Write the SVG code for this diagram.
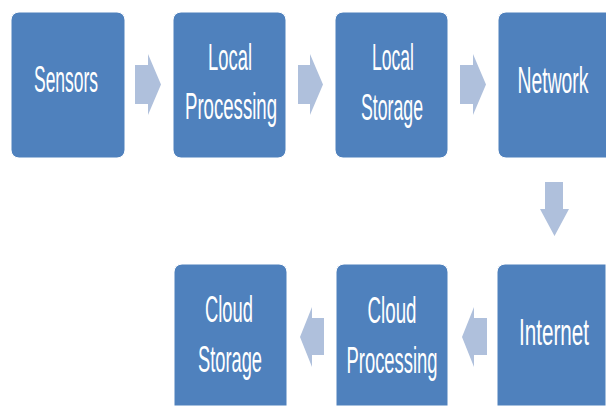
<svg xmlns="http://www.w3.org/2000/svg" width="606" height="406" viewBox="0 0 606 406">
  <style>
    .box { fill: #4F81BD; stroke: #ffffff; stroke-width: 1; }
    .lbl { font-family: "Liberation Sans", Arial, sans-serif; font-size: 37px; fill: #ffffff; text-anchor: middle; }
    .arrow { fill: #AFC0DC; }
  </style>
  <rect width="606" height="406" fill="#ffffff"/>

  <g id="connectors">
    <!-- right-pointing block arrows, top row -->
    <polygon class="arrow" points="135,65 148,65 148,54 161,84.5 148,115 148,104 135,104"/>
    <polygon class="arrow" points="298,65 310,65 310,54 323,84.5 310,115 310,104 298,104"/>
    <polygon class="arrow" points="460,65 473,65 473,54 486,84.5 473,115 473,104 460,104"/>
    <!-- down arrow from Network to Internet -->
    <polygon class="arrow" points="545,182 563,182 563,209 569,209 554.5,236 540,209 545,209"/>
    <!-- left-pointing block arrows, bottom row -->
    <polygon class="arrow" points="487,318 474,318 474,307 462,337 474,367 474,355 487,355"/>
    <polygon class="arrow" points="324,318 312,318 312,307 300,337 312,367 312,355 324,355"/>
  </g>

  <g id="sensors">
    <rect class="box" x="11" y="12" width="114" height="146" rx="8"/>
    <text class="lbl" x="66" y="92" textLength="64" lengthAdjust="spacingAndGlyphs">Sensors</text>
  </g>
  <g id="local-processing">
    <rect class="box" x="173" y="12" width="113" height="146" rx="8"/>
    <text class="lbl" x="230" y="70" textLength="44" lengthAdjust="spacingAndGlyphs">Local</text>
    <text class="lbl" x="231" y="119" textLength="92" lengthAdjust="spacingAndGlyphs">Processing</text>
  </g>
  <g id="local-storage">
    <rect class="box" x="335" y="12" width="113" height="146" rx="8"/>
    <text class="lbl" x="393" y="70" textLength="42" lengthAdjust="spacingAndGlyphs">Local</text>
    <text class="lbl" x="392" y="120" textLength="62" lengthAdjust="spacingAndGlyphs">Storage</text>
  </g>
  <g id="network">
    <!-- runs off the right edge: only the left corners are rounded -->
    <path class="box" d="M606,12 H506 A8,8 0 0 0 498,20 V150 A8,8 0 0 0 506,158 H606"/>
    <text class="lbl" transform="translate(553,93) scale(0.523,1)">Network</text>
  </g>
  <g id="internet">
    <!-- runs off the right and bottom edges -->
    <path class="box" d="M606,264 H505 A8,8 0 0 0 497,272 V406 H606 Z"/>
    <text class="lbl" transform="translate(554,345) scale(0.558,1)">Internet</text>
  </g>
  <g id="cloud-processing">
    <path class="box" d="M336,406 V272 A8,8 0 0 1 344,264 H440 A8,8 0 0 1 448,272 V406 Z"/>
    <text class="lbl" x="392" y="323" textLength="49" lengthAdjust="spacingAndGlyphs">Cloud</text>
    <text class="lbl" x="392" y="373" textLength="91" lengthAdjust="spacingAndGlyphs">Processing</text>
  </g>
  <g id="cloud-storage">
    <path class="box" d="M174,406 V272 A8,8 0 0 1 182,264 H279 A8,8 0 0 1 287,272 V406 Z"/>
    <text class="lbl" x="229" y="322" textLength="48" lengthAdjust="spacingAndGlyphs">Cloud</text>
    <text class="lbl" x="230" y="372" textLength="64" lengthAdjust="spacingAndGlyphs">Storage</text>
  </g>
</svg>
